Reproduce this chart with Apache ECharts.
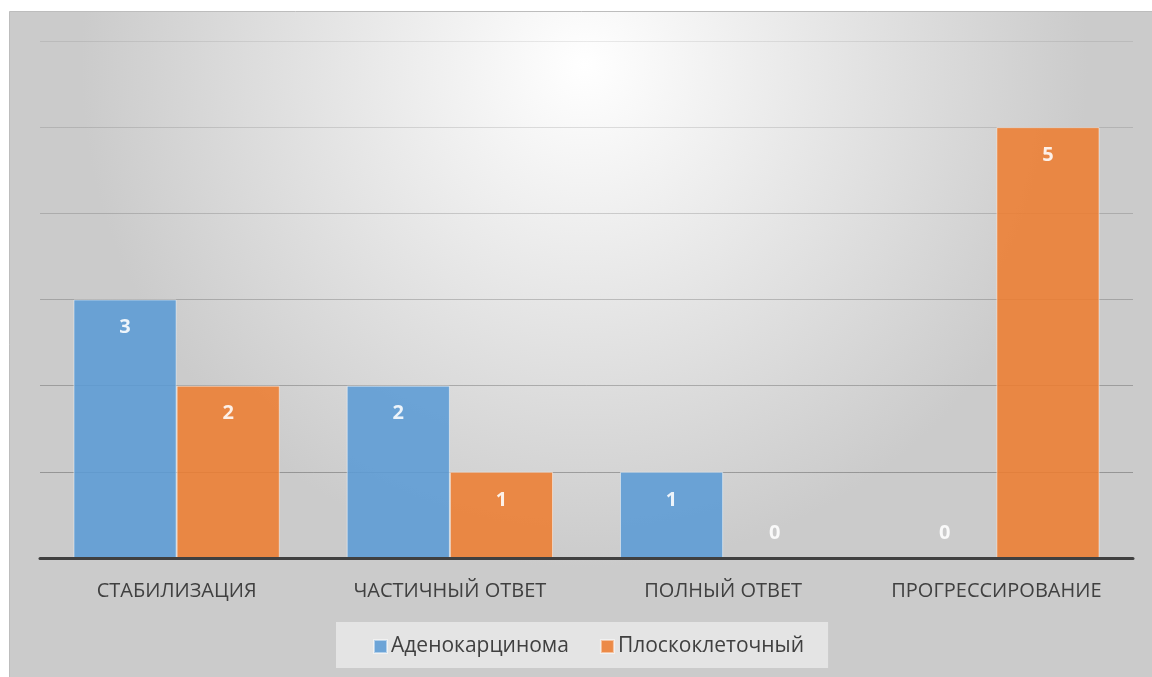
<!DOCTYPE html>
<html>
<head>
<meta charset="utf-8">
<script src="https://cdn.jsdelivr.net/npm/echarts@6/dist/echarts.min.js"></script>
<style>
  html, body { margin: 0; padding: 0; background: #ffffff; }
  #chart { width: 1152px; height: 677px; }
</style>
</head>
<body>
<div id="chart"></div>
<script>
// Treatment response by histological type
const categories = ['СТАБИЛИЗАЦИЯ', 'ЧАСТИЧНЫЙ ОТВЕТ', 'ПОЛНЫЙ ОТВЕТ', 'ПРОГРЕССИРОВАНИЕ'];
const seriesNames = ['Аденокарцинома', 'Плоскоклеточный'];
const adenoValues = [3, 2, 1, 0];
const squamousValues = [2, 1, 0, 5];
const colors = ['#5B9BD5', '#ED7D31'];

const chart = echarts.init(document.getElementById('chart'), null, { renderer: 'canvas' });

// zero-height bars get their label placed just above the axis
function toItems(values) {
  return values.map(v => v === 0
    ? { value: v, label: { position: 'top', distance: 14 } }
    : { value: v });
}

function makeSeries(name, values, color) {
  return {
    name: name,
    type: 'bar',
    data: toItems(values),
    barGap: '0%',
    barCategoryGap: '24.5%',
    itemStyle: {
      color: color,
      opacity: 0.88,
      borderColor: 'rgba(255,255,255,0.55)',
      borderWidth: 1
    },
    label: {
      show: true,
      position: 'insideTop',
      distance: 18,
      color: '#ffffff',
      fontFamily: 'Open Sans',
      fontWeight: 'bold',
      fontSize: 20
    },
    z: 1
  };
}

chart.setOption({
  backgroundColor: '#ffffff',
  animation: false,
  graphic: [{
    type: 'rect',
    silent: true,
    z: -10,
    shape: { x: 9.5, y: 11.5, width: 1150, height: 670 },
    style: {
      fill: {
        type: 'radial', x: 0.5, y: 0.08, r: 0.75,
        colorStops: [
          { offset: 0, color: '#ffffff' },
          { offset: 1, color: '#cbcbcb' }
        ]
      },
      stroke: '#bdbdbd',
      lineWidth: 1
    }
  }],
  grid: { left: 40, right: 19, top: 41, bottom: 119 },
  legend: {
    data: seriesNames,
    top: 622,
    left: 336,
    icon: 'rect',
    itemWidth: 13,
    itemHeight: 13,
    itemGap: 31,
    padding: [14, 24, 11, 37],
    backgroundColor: '#e4e4e4',
    textStyle: { color: '#404040', fontSize: 21, fontFamily: 'Open Sans', padding: [0, 0, 0, -1] }
  },
  color: colors,
  xAxis: {
    type: 'category',
    data: categories,
    axisLine: { lineStyle: { color: '#404040', width: 3 } },
    axisTick: { show: false },
    axisLabel: { interval: 0, color: '#404040', fontSize: 20, fontFamily: 'Open Sans', margin: 23 },
    z: 5
  },
  yAxis: {
    type: 'value',
    min: 0,
    max: 6,
    interval: 1,
    axisLabel: { show: false },
    axisLine: { show: false },
    axisTick: { show: false },
    splitLine: {
      lineStyle: {
        width: 1,
        color: {
          type: 'linear', global: true, x: 0, y: 41, x2: 0, y2: 558,
          colorStops: [
            { offset: 0, color: 'rgba(0,0,0,0.08)' },
            { offset: 1, color: 'rgba(0,0,0,0.3)' }
          ]
        }
      }
    }
  },
  series: [
    makeSeries(seriesNames[0], adenoValues, colors[0]),
    makeSeries(seriesNames[1], squamousValues, colors[1])
  ]
});
</script>
</body>
</html>
